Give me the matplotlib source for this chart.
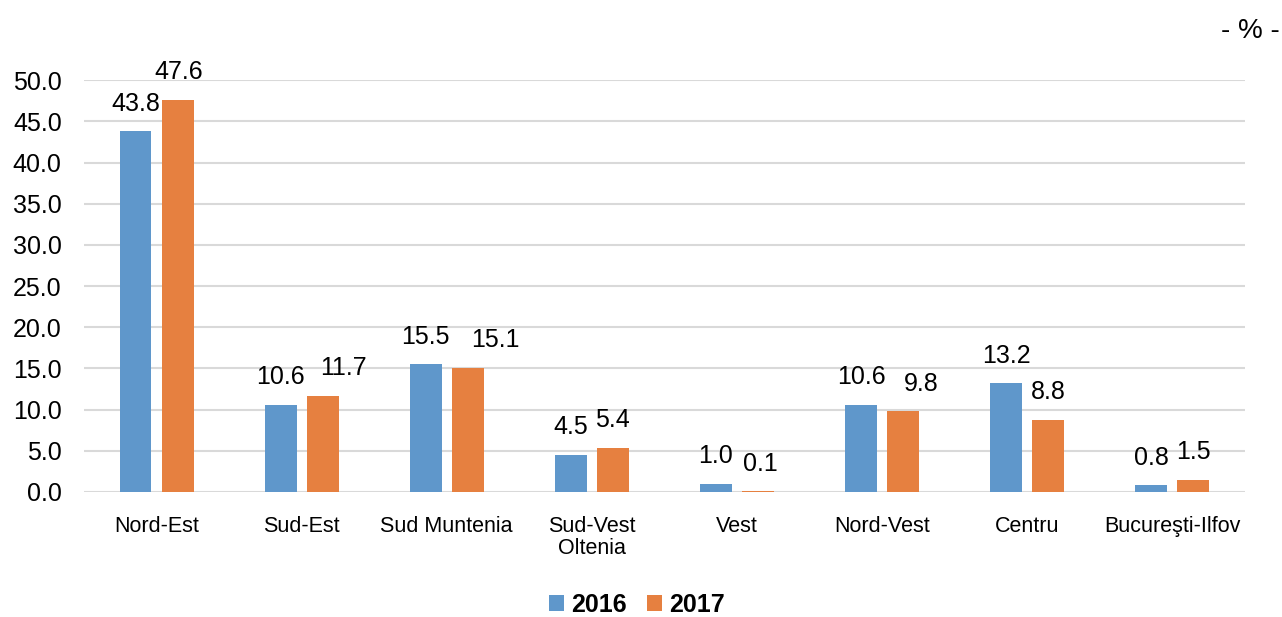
import matplotlib.pyplot as plt
import numpy as np

plt.rcParams['font.family'] = ['Liberation Sans', 'DejaVu Sans']

regions = ['Nord-Est', 'Sud-Est', 'Sud Muntenia', 'Sud-Vest\nOltenia', 'Vest',
           'Nord-Vest', 'Centru', 'Bucureşti-Ilfov']
v2016 = [43.8, 10.6, 15.5, 4.5, 1.0, 10.6, 13.2, 0.8]
v2017 = [47.6, 11.7, 15.1, 5.4, 0.1, 9.8, 8.8, 1.5]

c2016 = '#5f97cb'
c2017 = '#e68040'

# horizontal nudge (points) of the 2017 labels so they clear the 2016 ones
nudge2017 = [1, 15, 20, 0, 2, 13, 0, 0]

fig = plt.figure(figsize=(12.82, 6.17), dpi=100)
ax = fig.add_axes([0.0655, 0.2026, 0.9055, 0.6674])

x = np.arange(len(regions))
w = 0.22
off = 0.145
b1 = ax.bar(x - off, v2016, w, color=c2016, label='2016', zorder=3)
b2 = ax.bar(x + off, v2017, w, color=c2017, label='2017', zorder=3)

for bars, vals, nudges in ((b1, v2016, [0] * len(v2016)), (b2, v2017, nudge2017)):
    for rect, v, dx in zip(bars, vals, nudges):
        ax.annotate(f'{v:.1f}', (rect.get_x() + rect.get_width() / 2, v + 1.9),
                    xytext=(dx, 0), textcoords='offset points',
                    ha='center', va='bottom', fontsize=18, annotation_clip=False)

ax.set_xlim(-0.5, len(regions) - 0.5)
ax.set_ylim(0, 50)
ax.set_yticks(np.arange(0, 50.1, 5))
ax.set_yticklabels([f'{t:.1f}' for t in np.arange(0, 50.1, 5)], fontsize=18)
ax.set_xticks(x)
ax.set_xticklabels(regions, fontsize=15.5, linespacing=1.1)
ax.tick_params(length=0)
ax.tick_params(axis='x', pad=17)
ax.tick_params(axis='y', pad=16)
ax.grid(axis='y', color='#d9d9d9', linewidth=1.5, zorder=0)
for s in ax.spines.values():
    s.set_visible(False)

fig.text(0.998, 0.95, '- % -', ha='right', va='center', fontsize=20)

leg = fig.legend(loc='center', bbox_to_anchor=(0.497, 0.02), ncol=2, frameon=False,
                 prop={'weight': 'bold', 'size': 18}, handlelength=0.6,
                 handleheight=0.6, handletextpad=0.3, columnspacing=0.8)

fig.savefig('out.png', dpi=100)
